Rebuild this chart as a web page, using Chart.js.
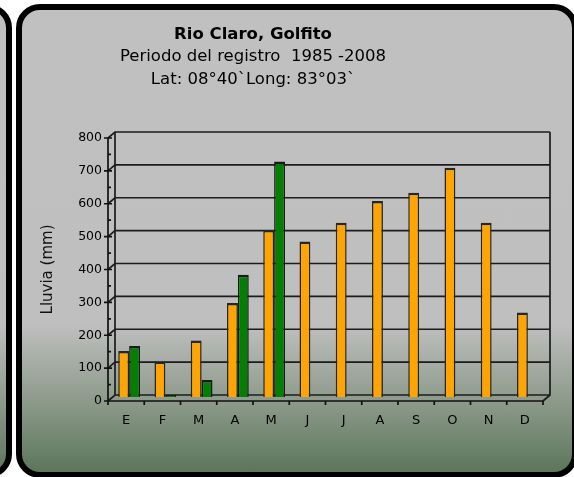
<!DOCTYPE html>
<html>
<head>
<meta charset="utf-8">
<title>Rio Claro, Golfito</title>
<script src="https://cdn.jsdelivr.net/npm/chart.js@4.4.1/dist/chart.umd.min.js"></script>
<style>
  html, body { margin: 0; padding: 0; background: #fff; width: 574px; height: 477px; overflow: hidden; }
  .panel {
    position: absolute; box-sizing: border-box;
    border: 6px solid #000; border-radius: 24px;
    background: linear-gradient(to bottom, #c0c0c0 0%, #bfbfbf 68%, #8f9c8d 84%, #5c765b 100%);
  }
  #left { left: -548px; top: 4px; width: 560px; height: 474px; }
  #main { left: 16px; top: 4px; width: 562px; height: 474px; }
  #wrap { position: absolute; left: 0; top: 0; width: 574px; height: 477px; }
</style>
</head>
<body>
<div class="panel" id="left"></div>
<div class="panel" id="main"></div>
<div id="wrap"><canvas id="chart-lluvia" width="574" height="477"></canvas></div>

<script>
// datos
const meses = ["E", "F", "M", "A", "M", "J", "J", "A", "S", "O", "N", "D"];
const lluviaPromedio = [140, 108, 172, 286, 508, 473, 530, 596, 621, 697, 530, 257];
const lluvia2008 = [155, 6, 52, 372, 716, null, null, null, null, null, null, null];
const yMin = 0, yMax = 800, yPaso = 100;

const titulos = [
  "Rio Claro, Golfito",
  "Periodo del registro  1985 -2008",
  "Lat: 08°40`Long: 83°03`"
];
const tituloEje = "Lluvia (mm)";

// profundidad del efecto 3D
const dx = 7, dy = 6;

// pared de fondo + rejilla desplazada
const pared3d = {
  id: "pared3d",
  beforeDatasetsDraw(chart) {
    const { ctx, chartArea: a, scales: { y } } = chart;
    ctx.save();
    ctx.strokeStyle = "#1c1c1c";
    ctx.lineWidth = 1.7;
    y.ticks.forEach(t => {
      const py = y.getPixelForValue(t.value);
      ctx.beginPath();
      ctx.moveTo(a.left, py);
      ctx.lineTo(a.left + dx, py - dy);
      ctx.lineTo(a.right + dx, py - dy);
      ctx.stroke();
    });
    ctx.beginPath();
    ctx.moveTo(a.left + dx, a.top - dy);
    ctx.lineTo(a.left + dx, a.bottom - dy);
    ctx.moveTo(a.right + dx, a.top - dy);
    ctx.lineTo(a.right + dx, a.bottom - dy);
    ctx.lineTo(a.right, a.bottom);
    ctx.stroke();
    ctx.restore();
    // barras en el plano medio
    ctx.save();
    ctx.translate(3, -4);
  },
  afterDatasetsDraw(chart) {
    chart.ctx.restore();
  },
  afterDraw(chart) {
    const { ctx, chartArea: a, scales: { y } } = chart;
    ctx.save();
    ctx.strokeStyle = "#111";
    ctx.lineWidth = 1.7;
    ctx.beginPath();
    ctx.moveTo(a.left, a.top);
    ctx.lineTo(a.left, a.bottom);
    ctx.lineTo(a.right, a.bottom);
    y.ticks.forEach(t => {
      const py = y.getPixelForValue(t.value);
      ctx.moveTo(a.left - 4, py);
      ctx.lineTo(a.left + 4, py);
    });
    for (let v = yMin + yPaso / 2; v < yMax; v += yPaso) {
      const py = y.getPixelForValue(v);
      ctx.moveTo(a.left, py);
      ctx.lineTo(a.left + 3, py);
    }
    const n = meses.length;
    for (let i = 0; i <= n; i++) {
      const px = a.left + i * (a.right - a.left) / n;
      ctx.moveTo(px, a.bottom);
      ctx.lineTo(px, a.bottom + 4);
    }
    ctx.stroke();

    // titulos
    ctx.fillStyle = "#000";
    ctx.textAlign = "center";
    ctx.textBaseline = "middle";
    ctx.font = "bold 16.5px 'DejaVu Sans'";
    ctx.fillText(titulos[0], 253, 35);
    ctx.font = "16.5px 'DejaVu Sans'";
    ctx.fillText(titulos[1], 253, 57);
    ctx.fillText(titulos[2], 253, 80);
    ctx.restore();
  }
};

new Chart(document.getElementById("chart-lluvia"), {
  type: "bar",
  data: {
    labels: meses,
    datasets: [
      {
        label: "Promedio",
        data: lluviaPromedio,
        backgroundColor: "#ffa400",
        borderColor: "#262626",
        borderWidth: { top: 2.5, left: 1.5, right: 1.5, bottom: 0 },
        categoryPercentage: 0.6,
        barPercentage: 1
      },
      {
        label: "2008",
        data: lluvia2008,
        backgroundColor: "#038003",
        borderColor: "#1a1a1a",
        borderWidth: { top: 2.5, left: 1.5, right: 1.5, bottom: 0 },
        categoryPercentage: 0.6,
        barPercentage: 1
      }
    ]
  },
  options: {
    responsive: false,
    animation: false,
    layout: { padding: { left: 0, right: 31, top: 138, bottom: 0 } },
    plugins: { legend: { display: false }, tooltip: { enabled: false } },
    scales: {
      x: {
        grid: { display: false, drawTicks: false },
        border: { display: false },
        ticks: { color: "#000", font: { family: "DejaVu Sans", size: 13 }, padding: 12 },
        afterFit(s) { s.height = 76; }
      },
      y: {
        min: yMin,
        max: yMax,
        grid: { display: false, drawTicks: false },
        border: { display: false },
        ticks: { stepSize: yPaso, color: "#000", font: { family: "DejaVu Sans", size: 12.5 }, padding: 6 },
        title: {
          display: true,
          text: tituloEje,
          color: "#111",
          font: { family: "DejaVu Sans", size: 15 },
          padding: { top: 39, bottom: 0 }
        },
        afterFit(s) { s.width = 108; }
      }
    }
  },
  plugins: [pared3d]
});
</script>
</body>
</html>
